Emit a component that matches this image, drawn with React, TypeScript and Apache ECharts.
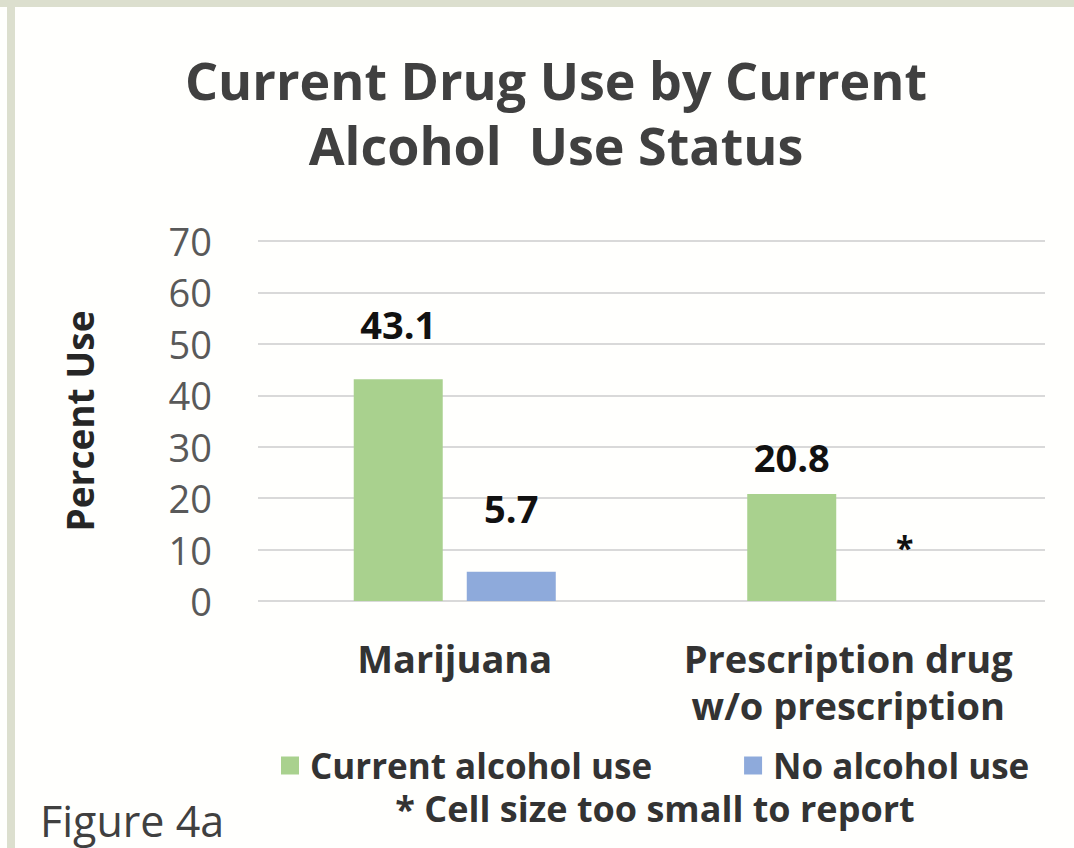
import React, { useEffect, useRef } from "react";
import * as echarts from "echarts";

const categories = ["Marijuana", "Prescription drug\nw/o prescription"];
const seriesNames = ["Current alcohol use", "No alcohol use"];
const currentAlcohol = [43.1, 20.8];
const noAlcohol = [5.7, 0];
const noAlcoholLabels = ["5.7", "*"];
const yTicks = { min: 0, max: 70, interval: 10 };

const FONT = "'Open Sans', 'Noto Sans', sans-serif";

export default function App() {
  const ref = useRef<HTMLDivElement>(null);
  useEffect(() => {
    document.body.style.margin = "0";
    const chart = echarts.init(ref.current!, null, { renderer: "svg" });
    chart.setOption({
      animation: false,
      backgroundColor: "#fffffd",
      title: {
        text: "Current Drug Use by Current\nAlcohol  Use Status",
        left: 551,
        top: 42,
        textAlign: "center",
        textStyle: {
          fontFamily: FONT,
          fontSize: 52,
          fontWeight: "bold",
          color: "#404040",
          lineHeight: 65,
        },
      },
      legend: {
        left: 276,
        top: 743,
        itemWidth: 18,
        itemHeight: 18,
        itemGap: 92,
        icon: "rect",
        data: seriesNames,
        textStyle: {
          fontFamily: FONT,
          fontSize: 35,
          fontWeight: "bold",
          color: "#333333",
          padding: [0, 0, 0, 6],
        },
      },
      grid: { left: 258, right: 29, top: 241, bottom: 247 },
      xAxis: {
        type: "category",
        data: categories,
        axisLine: { show: false },
        axisTick: { show: false },
        axisLabel: {
          interval: 0,
          margin: 33,
          fontFamily: FONT,
          fontSize: 38,
          fontWeight: "bold",
          color: "#333333",
          lineHeight: 47,
        },
      },
      yAxis: {
        type: "value",
        min: yTicks.min,
        max: yTicks.max,
        interval: yTicks.interval,
        name: "Percent Use",
        nameLocation: "middle",
        nameGap: 160,
        nameTextStyle: {
          fontFamily: FONT,
          fontSize: 37,
          fontWeight: "bold",
          color: "#262626",
        },
        axisLine: { show: false },
        axisTick: { show: false },
        splitLine: { lineStyle: { color: "#d9d9d9", width: 2 } },
        axisLabel: {
          margin: 46,
          fontFamily: FONT,
          fontSize: 38,
          color: "#595959",
        },
      },
      series: [
        {
          name: seriesNames[0],
          type: "bar",
          barWidth: 89,
          barGap: "27%",
          itemStyle: { color: "#a9d18e" },
          data: currentAlcohol.map((v, i) => ({
            value: v,
            label: { offset: [0, i === 0 ? -31 : -13] },
          })),
          label: {
            show: true,
            position: "top",
            distance: 5,
            fontFamily: FONT,
            fontSize: 38,
            fontWeight: "bold",
            color: "#111111",
          },
        },
        {
          name: seriesNames[1],
          type: "bar",
          barWidth: 89,
          itemStyle: { color: "#8eaadb" },
          data: noAlcohol.map((v, i) => ({
            value: v,
            label: {
              formatter: noAlcoholLabels[i],
              offset: [0, i === 0 ? -40 : -33],
              fontSize: i === 0 ? 38 : 32,
            },
          })),
          label: {
            show: true,
            position: "top",
            distance: 5,
            fontFamily: FONT,
            fontSize: 38,
            fontWeight: "bold",
            color: "#111111",
          },
        },
      ],
      graphic: [
        {
          type: "rect",
          shape: { x: 0, y: 0, width: 1074, height: 7 },
          style: { fill: "#dcdfce" },
        },
        {
          type: "rect",
          shape: { x: 7, y: 0, width: 8, height: 848 },
          style: { fill: "#dcdfce" },
        },
        {
          type: "text",
          x: 655,
          y: 808,
          style: {
            text: "* Cell size too small to report",
            fontFamily: FONT,
            fontSize: 36,
            fontWeight: "bold",
            fill: "#333333",
            align: "center",
            verticalAlign: "middle",
          },
        },
        {
          type: "text",
          x: 40,
          y: 820,
          style: {
            text: "Figure 4a",
            fontFamily: FONT,
            fontSize: 43,
            fill: "#404040",
            align: "left",
            verticalAlign: "middle",
          },
        },
      ],
    });
    return () => chart.dispose();
  }, []);
  return (
    <div
      ref={ref}
      style={{ position: "absolute", left: 0, top: 0, width: 1074, height: 848 }}
    />
  );
}
